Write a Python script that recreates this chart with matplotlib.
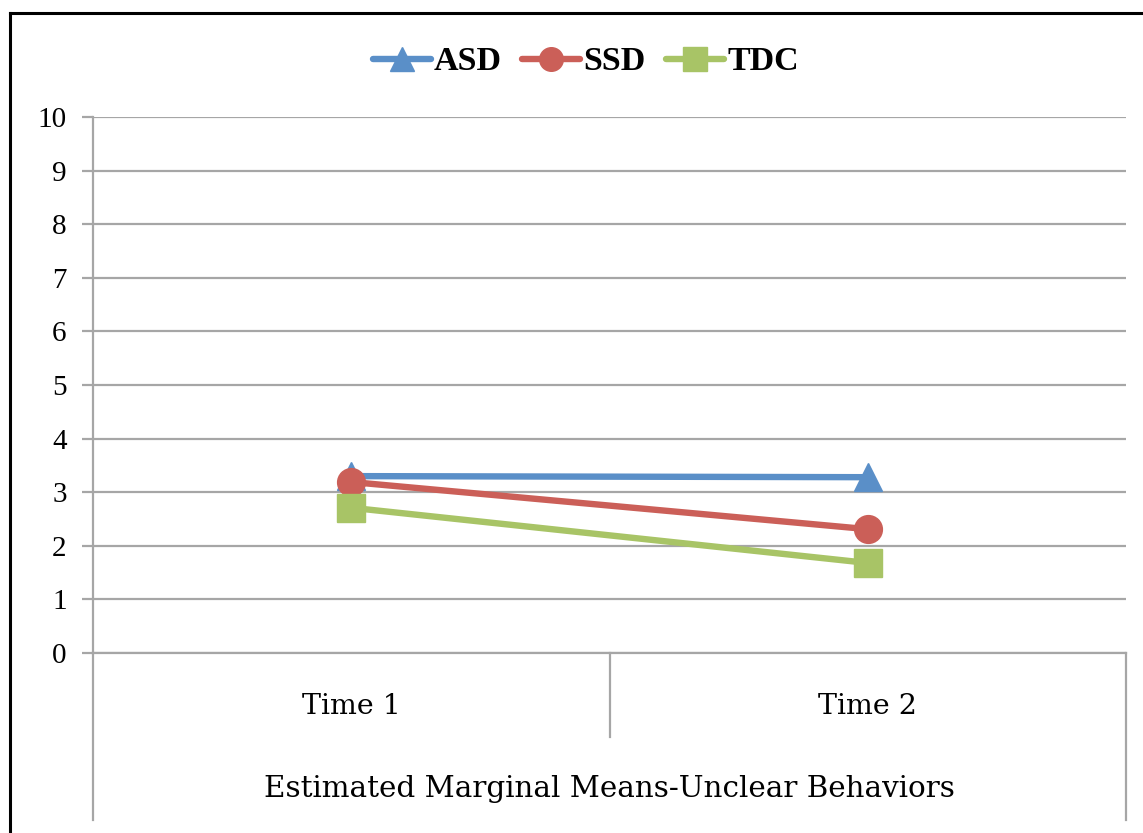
import matplotlib
matplotlib.use('Agg')
import matplotlib.pyplot as plt
from matplotlib.lines import Line2D

# data
times = ["Time 1", "Time 2"]
asd = [3.30, 3.28]
ssd = [3.19, 2.31]
tdc = [2.71, 1.68]
groups = ["ASD", "SSD", "TDC"]
xtitle = "Estimated Marginal Means-Unclear Behaviors"

colors = ["#5A8FC8", "#CB5F58", "#A8C466"]
markers = ["^", "o", "s"]
grid_c = "#A6A6A6"

fig = plt.figure(figsize=(11.43, 8.33), dpi=100)
ax = fig.add_axes([93/1143, 1-653/833, (1126-93)/1143, (653-117)/833])

x = range(len(times))
for vals, name, c, m in zip([asd, ssd, tdc], groups, colors, markers):
    ax.plot(x, vals, color=c, lw=4.6, marker=m, ms=20, mec=c, mfc=c,
            label=name, solid_capstyle='round', clip_on=False, zorder=3)

ax.set_xlim(-0.5, len(times) - 0.5)
ax.set_ylim(0, 10)
ax.set_yticks(range(0, 11))
ax.yaxis.grid(True, color=grid_c, lw=1.6)
ax.set_axisbelow(True)
for s in ['top', 'right']:
    ax.spines[s].set_visible(False)
ax.spines['left'].set_color(grid_c)
ax.spines['left'].set_linewidth(1.6)
ax.spines['bottom'].set_color(grid_c)
ax.spines['bottom'].set_linewidth(1.6)
ax.tick_params(axis='y', length=8, width=1.6, color=grid_c, pad=11,
               labelsize=21)
for t in ax.get_yticklabels():
    t.set_fontfamily('Liberation Serif')

ax.set_xticks(list(x))
ax.set_xticklabels(times, fontfamily='DejaVu Serif', fontsize=20.5)
ax.tick_params(axis='x', length=0, pad=29)

# category axis divider lines (two levels)
lo2 = (653 - 820) / 536
lo1 = (653 - 737) / 536
kw = dict(transform=ax.transAxes, color=grid_c, lw=1.6, clip_on=False)
ax.add_line(Line2D([0, 0], [0, lo2], **kw))
ax.add_line(Line2D([1, 1], [0, lo2], **kw))
ax.add_line(Line2D([0.5, 0.5], [0, lo1], **kw))

ax.text(0.5, (653 - 789) / 536, xtitle, transform=ax.transAxes,
        ha='center', va='center', fontfamily='DejaVu Serif', fontsize=21.2)

leg = ax.legend(loc='center', bbox_to_anchor=(586/1143, 1-62/833),
                bbox_transform=fig.transFigure, ncol=3, frameon=False,
                prop={'family': 'Liberation Serif', 'weight': 'bold', 'size': 24.5},
                handlelength=1.7, handletextpad=0.1, columnspacing=0.6,
                markerscale=0.85)

# outer frame (top and left edges visible)
fk = dict(transform=fig.transFigure, color='black', lw=2.2)
fig.add_artist(Line2D([10/1143, 1], [1-13/833, 1-13/833], **fk))
fig.add_artist(Line2D([10/1143, 10/1143], [0, 1-13/833], **fk))

fig.savefig("out.png", dpi=100)
